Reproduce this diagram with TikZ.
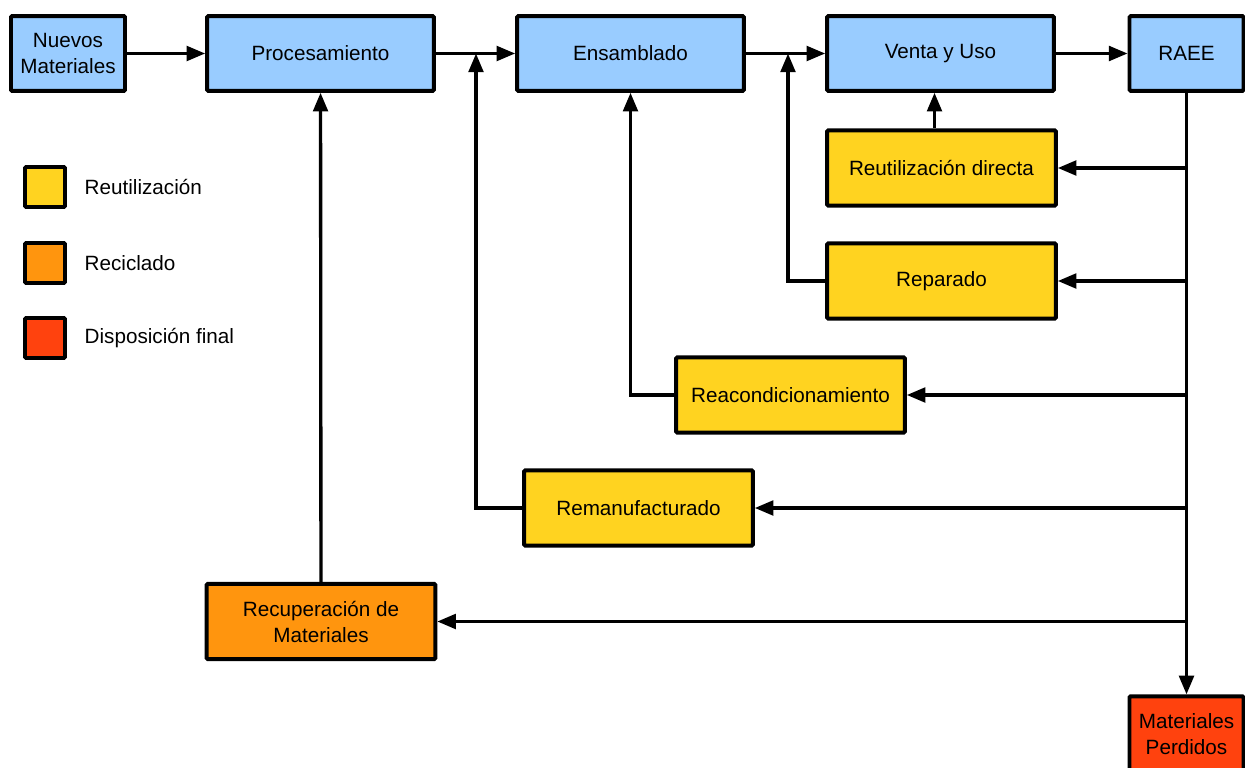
\documentclass[tikz,border=0pt]{standalone}
\usepackage{fontspec}
\setmainfont{Liberation Sans}
\usetikzlibrary{arrows.meta}
\definecolor{azul}{HTML}{99CCFF}
\definecolor{amarillo}{HTML}{FFD320}
\definecolor{naranja}{HTML}{FF950E}
\definecolor{rojo}{HTML}{FF420E}

\begin{document}
\begin{tikzpicture}[x=0.75pt,y=-0.75pt,
  caja/.style={draw=black,line width=2.9pt,rounded corners=0.8pt,align=center,
    inner sep=0pt,font=\fontsize{15.5}{19.5}\selectfont},
  azulbox/.style={caja,fill=azul,minimum width=170pt,minimum height=56pt},
  amabox/.style={caja,fill=amarillo,minimum width=171.5pt,minimum height=56.5pt},
  leyenda/.style={draw=black,line width=2.9pt,rounded corners=0.8pt,minimum size=30pt,inner sep=0pt},
  texto/.style={anchor=west,font=\fontsize{15.5}{19.5}\selectfont},
  flecha/.style={line width=2.5pt,-{Triangle[length=14pt,width=11pt]}}]
\useasboundingbox (0,0) rectangle (1245,767);
% fila superior
\node [azulbox,minimum width=85.5pt] (nm) at (68,53.5) {Nuevos\\Materiales};
\node [azulbox] (proc) at (320.5,53.5) {Procesamiento};
\node [azulbox] (ens) at (630.5,53.5) {Ensamblado};
\node [azulbox] (venta) at (940.5,53.5) {Venta y Uso};
\node [azulbox,minimum width=85.5pt] (raee) at (1186.5,53.5) {RAEE};
% procesos de recuperacion
\node [amabox] (rd) at (941.5,168) {Reutilización directa};
\node [amabox] (rep) at (941.5,281) {Reparado};
\node [amabox] (reac) at (790.5,395) {Reacondicionamiento};
\node [amabox] (rem) at (638.5,508) {Remanufacturado};
\node [amabox,fill=naranja] (rec) at (321,621.5) {Recuperación de\\Materiales};
\node [azulbox,fill=rojo,minimum width=85.5pt,minimum height=56.5pt] (mp) at (1186.5,734) {Materiales\\Perdidos};
% leyenda
\node [leyenda,fill=amarillo] (l1) at (45,187) {};
\node [leyenda,fill=naranja] (l2) at (45,263) {};
\node [leyenda,fill=rojo] (l3) at (45,338) {};
\node [texto] (t1) at (80,187) {Reutilización};
\node [texto] (t2) at (80,263) {Reciclado};
\node [texto] (t3) at (80,338) {Disposición final};
% puntos de union
\coordinate (m1) at (476,53.5);
\coordinate (m2) at (788,53.5);
\coordinate (j1) at (1187,168);
\coordinate (j2) at (1187,281);
\coordinate (j3) at (1187,395);
\coordinate (j4) at (1187,508);
\coordinate (j5) at (1187,621.5);
% flujo principal
\draw [flecha] (nm) -- (proc);
\draw [flecha] (proc) -- (ens);
\draw [flecha] (ens) -- (venta);
\draw [flecha] (venta) -- (raee);
\draw [flecha] (raee) -- (mp);
% retornos
\draw [flecha] (j1) -- (rd);
\draw [flecha] (j2) -- (rep);
\draw [flecha] (j3) -- (reac);
\draw [flecha] (j4) -- (rem);
\draw [flecha] (j5) -- (rec);
\draw [flecha] (rd.north -| venta.south) ++(-6,0) coordinate (rdup) -- (rdup |- venta.south);
\draw [flecha] (rep.west) -| (m2);
\draw [flecha] (reac.west) -| (ens.south);
\draw [flecha] (rem.west) -| (m1);
\draw [flecha] (rec) -- (proc);
\end{tikzpicture}
\end{document}
